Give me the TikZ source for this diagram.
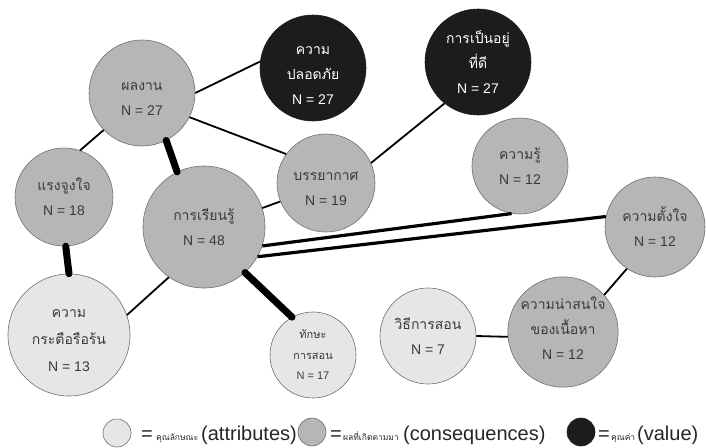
\documentclass[tikz,border=0pt]{standalone}
\usepackage{fontspec}
\setmainfont{Liberation Sans}
\newfontfamily\thaifont[Script=Thai]{Loma}
\usetikzlibrary{positioning}
\definecolor{consgrey}{RGB}{182,182,182}
\definecolor{attrgrey}{RGB}{230,230,230}
\definecolor{valblack}{RGB}{28,28,28}
\definecolor{rimgrey}{RGB}{110,110,110}
\definecolor{labelgrey}{RGB}{58,58,58}
\newcommand{\thtxt}[1]{{\thaifont #1}}
\newcommand{\thsmall}[1]{{\thaifont\fontsize{8.5}{10}\selectfont #1}}
\newcommand{\pushdown}[1]{\rule{0pt}{#1}}
\newcommand{\pushup}[1]{\rule[-#1]{0pt}{0pt}}
\begin{document}
\begin{tikzpicture}[x=1pt,y=-1pt,
  bubble/.style={circle, draw=rimgrey, line width=0.6pt, inner sep=0pt, align=center,
    font=\fontsize{14}{25}\selectfont, text=labelgrey},
  cons/.style={bubble, fill=consgrey},
  attr/.style={bubble, fill=attrgrey},
  val/.style={bubble, fill=valblack, draw=valblack, text=white},
  link/.style={line width=1.8pt},
  pair/.style={line width=3.2pt},
  strong/.style={line width=7pt, line cap=round},
  legtext/.style={font=\fontsize{20}{24}\selectfont, text=black!85, inner sep=0pt, anchor=base west}]
\useasboundingbox (0,0) rectangle (706,447);
% consequences
\node[cons, minimum size=106pt] (work) at (142,93) {\pushdown{20pt}\thtxt{ผลงาน}\\N = 27};
\node[cons, minimum size=98pt] (motiv) at (64,197) {\thtxt{แรงจูงใจ}\\N = 18};
\node[cons, minimum size=122pt] (learn) at (204,227) {\thtxt{การเรียนรู้}\\N = 48};
\node[cons, minimum size=98pt] (atmos) at (326,183) {\pushdown{20pt}\thtxt{บรรยากาศ}\\N = 19};
\node[cons, minimum size=96pt] (know) at (520,166) {\thtxt{ความรู้}\\N = 12};
\node[cons, minimum size=100pt] (intent) at (655,227) {\thtxt{ความตั้งใจ}\\N = 12};
\node[cons, minimum size=110pt] (interest) at (563,332) {\thtxt{ความน่าสนใจ}\\\thtxt{ของเนื้อหา}\\N = 12\pushup{8pt}};
% values
\node[val, minimum size=106pt] (safe) at (313,68) {\pushdown{22pt}\thtxt{ความ}\\\thtxt{ปลอดภัย}\\N = 27};
\node[val, minimum size=106pt] (well) at (478,62) {\thtxt{การเป็นอยู่}\\\thtxt{ที่ดี}\\N = 27};
% attributes
\node[attr, minimum size=122pt, font=\fontsize{14}{27}\selectfont] (enth) at (69,335) {\pushdown{20pt}\thtxt{ความ}\\\thtxt{กระตือรือร้น}\\N = 13};
\node[attr, minimum size=86pt, font=\fontsize{11}{20.5}\selectfont] (skill) at (313,355) {\thtxt{ทักษะ}\\\thtxt{การสอน}\\N = 17};
\node[attr, minimum size=96pt] (method) at (428,336) {\thtxt{วิธีการสอน}\\N = 7};
% links
\draw[link] (work.east) -- (safe.173);
\draw[link] (work.-27) -- (atmos.144);
\draw[link] (work.-136) -- (motiv.71);
\draw[strong] (work.-63) -- (learn.116);
\draw[strong] (motiv.-88) -- (enth.north);
\draw[link] (enth.19) -- (learn.-125);
\draw[link] (learn.18) -- (atmos.-158);
\draw[link] (atmos.24) -- (well.-129);
\draw[strong] (learn.-48) -- (skill.119);
\draw[pair] (learn.-18) -- (know.-100);
\draw[pair] (learn.-29) -- (intent.168);
\draw[link] (method.east) -- (interest.185);
\draw[link] (interest.42) -- (intent.-124);
% legend
\node[attr, minimum size=28pt] (legattr) at (117,433) {};
\node[legtext] (legattrtxt) at (141,440) {\makebox[15pt][l]{=}\makebox[45pt][l]{\thsmall{คุณลักษณะ}}(attributes)};
\node[cons, minimum size=28pt] (legcons) at (312,432) {};
\node[legtext] (legconstxt) at (330,440) {\makebox[13pt][l]{=}\makebox[60pt][l]{\thsmall{ผลที่เกิดตามมา}}(consequences)};
\node[val, minimum size=28pt] (legval) at (581,432) {};
\node[legtext] (legvaltxt) at (598,440) {\makebox[13pt][l]{=}\makebox[26pt][l]{\thsmall{คุณค่า}}(value)};
\end{tikzpicture}
\end{document}
